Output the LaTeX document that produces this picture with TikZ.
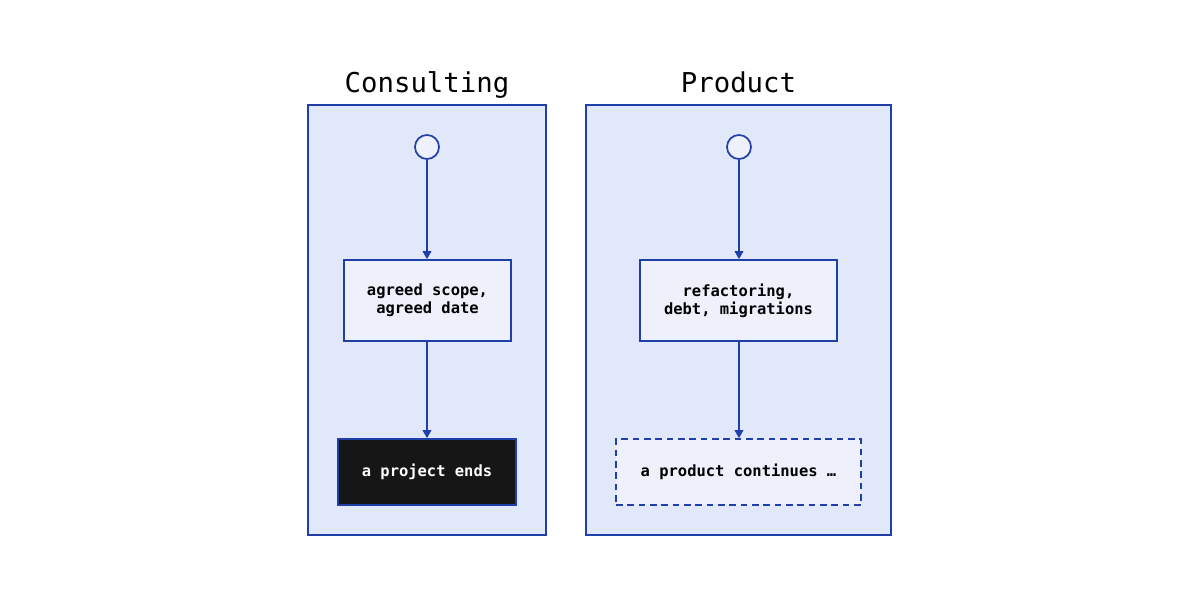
\documentclass[tikz,border=0pt]{standalone}
\usepackage{fontspec}
\setmonofont{DejaVu Sans Mono}
\usetikzlibrary{arrows.meta}
\definecolor{frameblue}{HTML}{1F3FAA}
\definecolor{framefill}{HTML}{E1E8FA}
\definecolor{boxfill}{HTML}{EEF1FB}
\definecolor{darkbox}{HTML}{161616}
\begin{document}
\begin{tikzpicture}[x=0.75pt,y=-0.75pt,
  lane/.style={draw=frameblue,fill=framefill,line width=1.4pt,inner sep=0pt,minimum height=322.5pt},
  lanetitle/.style={font=\ttfamily\fontsize{20.5}{24}\selectfont,text=black,inner sep=0pt,anchor=base},
  startdot/.style={circle,draw=frameblue,fill=boxfill,line width=1.3pt,minimum size=18pt,inner sep=0pt},
  stepbox/.style={draw=frameblue,fill=boxfill,line width=1.3pt,align=center,inner sep=0pt,
    font=\ttfamily\bfseries\fontsize{11.6}{13.5}\selectfont,minimum height=60.75pt},
  endbox/.style={draw=frameblue,fill=darkbox,text=white,line width=1.3pt,inner sep=0pt,
    font=\ttfamily\bfseries\fontsize{11.6}{13.5}\selectfont,minimum height=49.5pt},
  openbox/.style={draw=frameblue,fill=boxfill,dashed,dash pattern=on 5pt off 3.5pt,line width=1.3pt,inner sep=0pt,
    font=\ttfamily\bfseries\fontsize{11.6}{13.5}\selectfont,minimum height=49.5pt},
  flow/.style={draw=frameblue,line width=1.1pt,-{Triangle[length=6pt,width=6.5pt]}}
]
\useasboundingbox (0,0) rectangle (1200,600);
\fill[white] (0,0) rectangle (1200,600);

\node[lane,minimum width=178.5pt] (cons) at (427,320) {};
\node[lane,minimum width=228.75pt] (prod) at (738.5,320) {};

\node[lanetitle] (constitle) at (427,92) {Consulting};
\node[lanetitle] (prodtitle) at (738.5,92) {Product};

\node[startdot] (s1) at (427,147) {};
\node[stepbox,minimum width=125.25pt] (b1) at (427.5,300.5) {agreed scope,\\agreed date};
\node[endbox,minimum width=133.5pt] (b2) at (427,472) {a project ends};

\node[startdot] (s2) at (739,147) {};
\node[stepbox,minimum width=147.75pt] (b3) at (738.5,300.5) {refactoring,\\debt, migrations};
\node[openbox,minimum width=183.75pt] (b4) at (738.5,472) {a product continues …};

\draw[flow] (s1.south) -- (s1.south |- b1.north);
\draw[flow] (b1.south -| s1.south) -- (s1.south |- b2.north);
\draw[flow] (s2.south) -- (s2.south |- b3.north);
\draw[flow] (b3.south -| s2.south) -- (s2.south |- b4.north);
\end{tikzpicture}
\end{document}
